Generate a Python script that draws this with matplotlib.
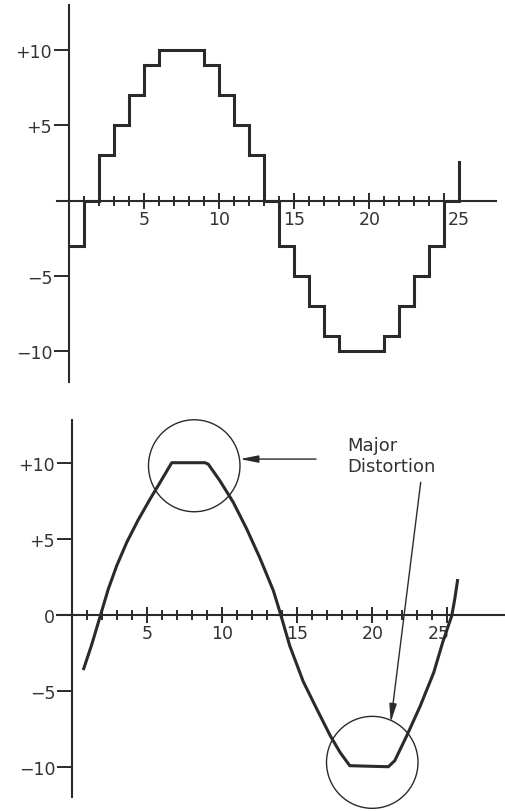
import matplotlib
matplotlib.use("Agg")
import matplotlib.pyplot as plt
from matplotlib.patches import Ellipse
from matplotlib.transforms import ScaledTranslation

plt.rcParams['font.family'] = ['DejaVu Sans']

# sampled (stepped) signal, top panel
step_x = list(range(0, 27))
step_y = [-3, 0, 3, 5, 7, 9, 10, 10, 10, 9, 7, 5, 3, 0,
          -3, -5, -7, -9, -10, -10, -10, -9, -7, -5, -3, 0, 2.6]

# reconstructed (clipped) waveform, bottom panel
wave_x = [0.73, 1.3, 1.89, 2.4, 2.96, 3.63, 4.4, 5.18, 5.85, 6.63, 8.85, 9.07,
          9.85, 10.73, 11.63, 12.5, 13.4, 13.85, 14.5, 15.4, 16.3, 17.2, 17.85,
          18.5, 21.07, 21.5, 22.3, 23.2, 24.1, 24.7, 25.3, 25.5, 25.7]
wave_y = [-3.64, -1.95, 0.0, 1.69, 3.22, 4.76, 6.25, 7.6, 8.7, 10.0, 10.0, 9.9,
          8.8, 7.4, 5.64, 3.75, 1.6, 0.16, -2.05, -4.4, -6.2, -7.96, -9.05,
          -9.93, -10.0, -9.6, -7.96, -6.0, -3.8, -1.8, -0.07, 1.03, 2.35]

x_major = [5, 10, 15, 20, 25]
x_minor = [i for i in range(1, 26) if i % 5]
top_yticks = [10, 5, -5, -10]
top_ylabels = ['+10', '+5', '\u22125', '\u221210']
bot_yticks = [10, 5, 0, -5, -10]
bot_ylabels = ['+10', '+5', '0', '\u22125', '\u221210']

# circled regions and annotation
circle_centres = [(8.13, 9.8), (20.0, -9.71)]
note = 'Major\nDistortion'

ink = '#2a2a2a'
txt = '#333333'
fs = 12.5

fig = plt.figure(figsize=(5.06, 8.12), dpi=100)
ax1 = fig.add_axes([57 / 506, 429 / 812, 439 / 506, 377 / 812])
ax2 = fig.add_axes([57 / 506, 14 / 812, 448 / 506, 377 / 812])


def style(ax, yt, yl):
    for s in ('top', 'right'):
        ax.spines[s].set_visible(False)
    for s in ('left', 'bottom'):
        ax.spines[s].set_position(('data', 0))
        ax.spines[s].set_linewidth(1.5)
        ax.spines[s].set_color(ink)
    ax.set_xticks(x_major)
    ax.set_xticklabels([str(v) for v in x_major])
    ax.set_xticks(x_minor, minor=True)
    ax.set_yticks(yt)
    ax.set_yticklabels(yl)
    ax.tick_params(axis='x', which='major', direction='inout', length=11.5,
                   width=1.4, color=ink, labelsize=fs, labelcolor=txt, pad=1)
    ax.tick_params(axis='x', which='minor', direction='inout', length=6.5,
                   width=1.4, color=ink)
    ax.tick_params(axis='y', which='major', direction='out', length=10.8,
                   width=1.4, color=ink, labelsize=fs, labelcolor=txt, pad=1.5)


style(ax1, top_yticks, top_ylabels)
ax1.set_xlim(-0.82, 28.45)
ax1.set_ylim(-12.05, 13.0)
ax1.plot(step_x, step_y, drawstyle='steps-post', color=ink, lw=2.2,
         solid_joinstyle='miter')

style(ax2, bot_yticks, bot_ylabels)
ax2.set_xlim(-1.02, 28.85)
ax2.set_ylim(-11.99, 12.81)
ax2.plot(wave_x, wave_y, color=ink, lw=2.2, solid_joinstyle='round',
         solid_capstyle='butt')

for cx, cy in circle_centres:
    ax2.add_patch(Ellipse((cx, cy), 6.1, 6.05, fill=False, ec=ink, lw=1.0,
                          clip_on=False))

ax2.text(18.36, 11.73, note, fontsize=13, color=txt, ha='left', va='top',
         linespacing=1.22)
arrow = dict(arrowstyle='-|>,head_length=1.1,head_width=0.22', color=ink,
             lw=1.0, shrinkA=0, shrinkB=0, mutation_scale=10)
ax2.annotate('', xy=(11.18, 10.24), xytext=(16.25, 10.24), arrowprops=arrow,
             annotation_clip=False)
ax2.annotate('', xy=(21.23, -7.08), xytext=(23.23, 8.71), arrowprops=arrow,
             annotation_clip=False)

# the "25" labels sit a little off their ticks in the original
fig.canvas.draw()
lab = ax1.xaxis.get_major_ticks()[-1].label1
lab.set_transform(lab.get_transform() + ScaledTranslation(0.14, 0, fig.dpi_scale_trans))
lab = ax2.xaxis.get_major_ticks()[-1].label1
lab.set_transform(lab.get_transform() + ScaledTranslation(-0.09, 0, fig.dpi_scale_trans))

fig.savefig('out.png', dpi=100)
